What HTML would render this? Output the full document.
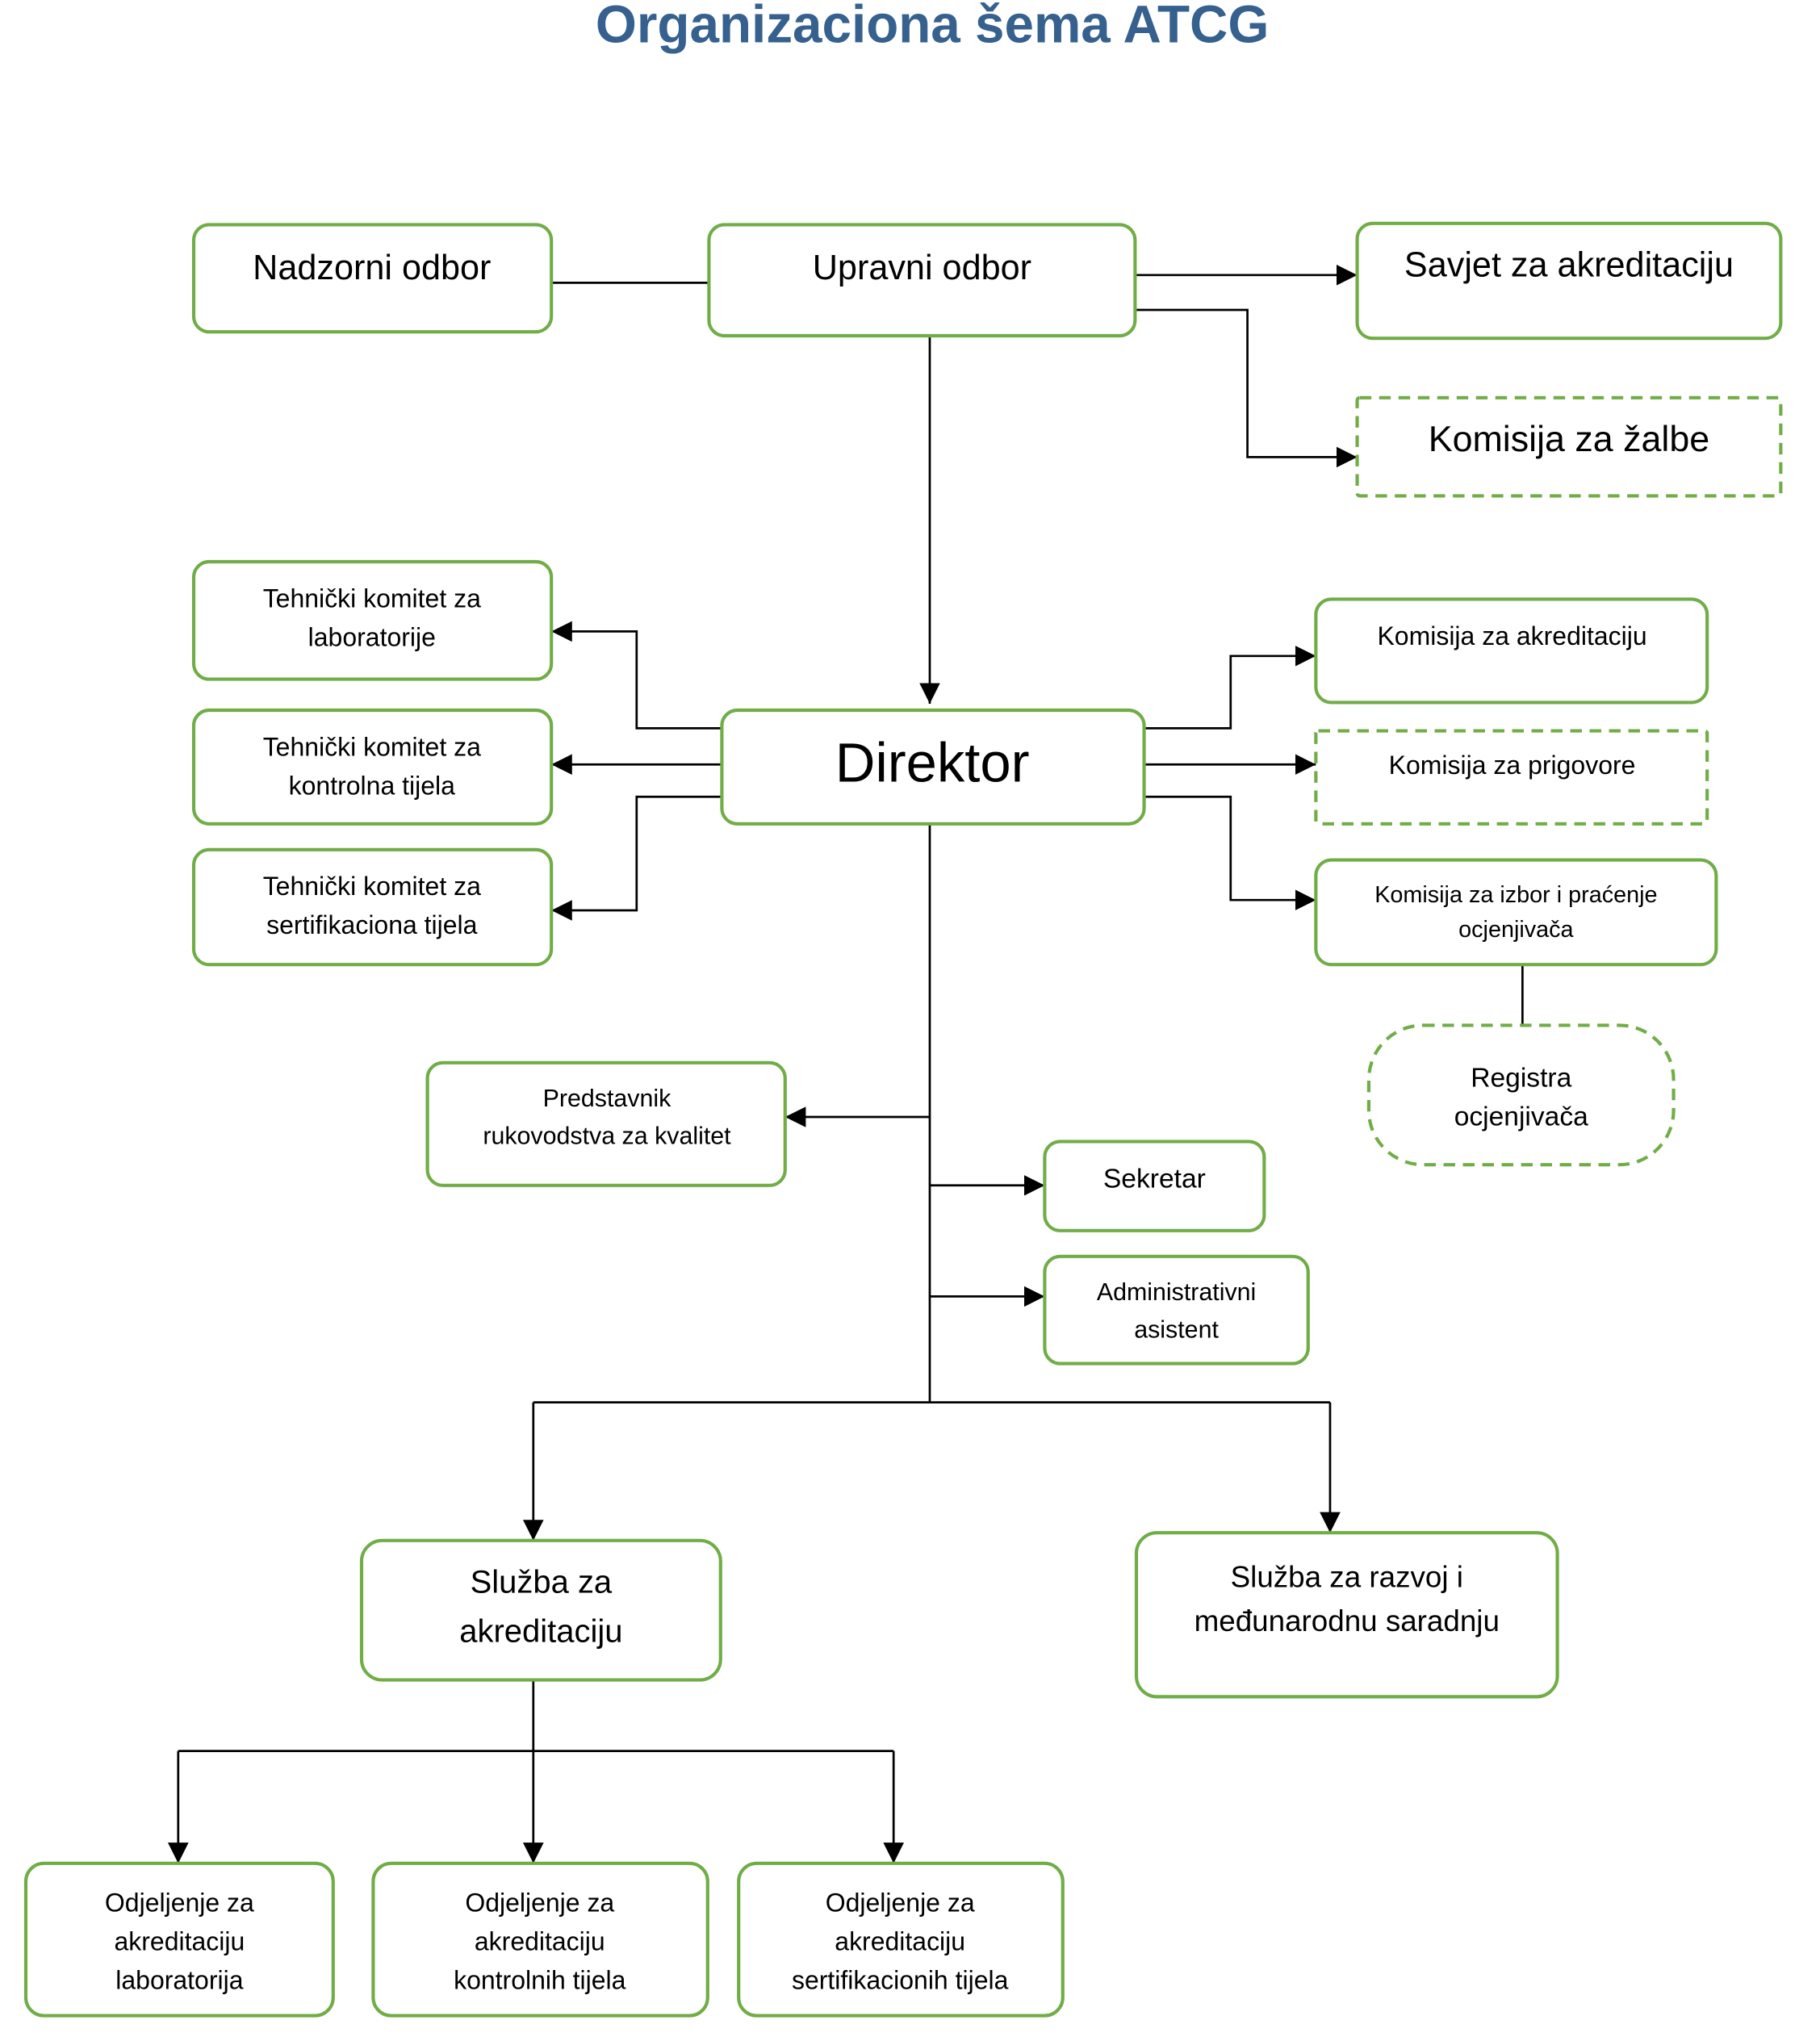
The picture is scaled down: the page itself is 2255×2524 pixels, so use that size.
<!DOCTYPE html>
<html><head><meta charset="utf-8"><style>
html,body{margin:0;padding:0;background:#fff;}
svg{display:block}
text{font-family:"Liberation Sans","DejaVu Sans",sans-serif;fill:#000;text-anchor:middle;dominant-baseline:middle}
.b{fill:#fff;stroke:#70AD47;stroke-width:2.6}
.d{fill:#fff;stroke:#70AD47;stroke-width:2.6;stroke-dasharray:9 6}
.l{fill:none;stroke:#000;stroke-width:1.7}
</style></head><body>
<svg width="2255" height="2524" viewBox="0 0 1409.4 1577.5" xmlns="http://www.w3.org/2000/svg">
<defs>
<marker id="m" viewBox="0 0 10 10" markerWidth="16" markerHeight="16" refX="10" refY="5" orient="auto" markerUnits="userSpaceOnUse"><path d="M0,0 L10,5 L0,10 z" fill="#000"/></marker></defs>
<text x="722" y="22" style="font-size:41px;font-weight:bold;fill:#36618F">Organizaciona šema ATCG</text>

<g class="l">
<path d="M427,219H549"/>
<path d="M880,213H1051" marker-end="url(#m)"/>
<path d="M880,240H966V354H1051" marker-end="url(#m)"/>
<path d="M720,260V545" marker-end="url(#m)"/>
<path d="M559,564H493V489H427" marker-end="url(#m)"/>
<path d="M559,592H427" marker-end="url(#m)"/>
<path d="M559,617H493V705H427" marker-end="url(#m)"/>
<path d="M886,564H953V508H1019" marker-end="url(#m)"/>
<path d="M886,592H1019" marker-end="url(#m)"/>
<path d="M886,617H953V697H1019" marker-end="url(#m)"/>
<path d="M1179,747V794"/>
<path d="M720,638V1086"/>
<path d="M720,865H608" marker-end="url(#m)"/>
<path d="M720,918H809" marker-end="url(#m)"/>
<path d="M720,1004H809" marker-end="url(#m)"/>
<path d="M413,1086H1030"/>
<path d="M413,1086V1193" marker-end="url(#m)"/>
<path d="M1030,1086V1187" marker-end="url(#m)"/>
<path d="M413,1301V1443" marker-end="url(#m)"/>
<path d="M138,1356H692"/>
<path d="M138,1356V1443" marker-end="url(#m)"/>
<path d="M692,1356V1443" marker-end="url(#m)"/>
</g>

<rect class="b" x="150" y="174" width="277" height="83" rx="12"/>
<text x="288" y="209" font-size="27">Nadzorni odbor</text>
<rect class="b" x="549" y="174" width="330" height="86" rx="12"/>
<text x="714" y="209" font-size="27">Upravni odbor</text>
<rect class="b" x="1051" y="173" width="328" height="89" rx="12"/>
<text x="1215" y="207" font-size="27">Savjet za akreditaciju</text>
<rect class="d" x="1051" y="308" width="328" height="76" rx="2"/>
<text x="1215" y="342" font-size="28">Komisija za žalbe</text>

<rect class="b" x="150" y="435" width="277" height="91" rx="12"/>
<text x="288" y="465" font-size="20">Tehnički komitet za</text><text x="288" y="495" font-size="20">laboratorije</text>
<rect class="b" x="150" y="550" width="277" height="88" rx="12"/>
<text x="288" y="580" font-size="20">Tehnički komitet za</text><text x="288" y="610" font-size="20">kontrolna tijela</text>
<rect class="b" x="150" y="658" width="277" height="89" rx="12"/>
<text x="288" y="688" font-size="20">Tehnički komitet za</text><text x="288" y="718" font-size="20">sertifikaciona tijela</text>

<rect class="b" x="559" y="550" width="327" height="88" rx="12"/>
<text x="722" y="594" font-size="43">Direktor</text>

<rect class="b" x="1019" y="464" width="303" height="80" rx="12"/>
<text x="1171" y="494" font-size="20">Komisija za akreditaciju</text>
<rect class="d" x="1019" y="566" width="303" height="72" rx="2"/>
<text x="1171" y="594" font-size="20">Komisija za prigovore</text>
<rect class="b" x="1019" y="666" width="310" height="81" rx="12"/>
<text x="1174" y="694" font-size="18">Komisija za izbor i praćenje</text><text x="1174" y="721" font-size="18">ocjenjivača</text>
<rect class="d" x="1060" y="794" width="236" height="108" rx="42"/>
<text x="1178" y="836" font-size="21">Registra</text><text x="1178" y="866" font-size="21">ocjenjivača</text>

<rect class="b" x="331" y="823" width="277" height="95" rx="12"/>
<text x="470" y="852" font-size="19">Predstavnik</text><text x="470" y="881" font-size="19">rukovodstva za kvalitet</text>
<rect class="b" x="809" y="884" width="170" height="69" rx="12"/>
<text x="894" y="914" font-size="21">Sekretar</text>
<rect class="b" x="809" y="973" width="204" height="83" rx="12"/>
<text x="911" y="1002" font-size="19">Administrativni</text><text x="911" y="1031" font-size="19">asistent</text>

<rect class="b" x="280" y="1193" width="278" height="108" rx="16"/>
<text x="419" y="1227" font-size="25">Služba za</text><text x="419" y="1265" font-size="25">akreditaciju</text>
<rect class="b" x="880" y="1187" width="326" height="127" rx="16"/>
<text x="1043" y="1223" font-size="23">Služba za razvoj i</text><text x="1043" y="1257" font-size="23">međunarodnu saradnju</text>

<rect class="b" x="20" y="1443" width="238" height="118" rx="14"/>
<text x="139" y="1475" font-size="20">Odjeljenje za</text><text x="139" y="1505" font-size="20">akreditaciju</text><text x="139" y="1535" font-size="20">laboratorija</text>
<rect class="b" x="289" y="1443" width="259" height="118" rx="14"/>
<text x="418" y="1475" font-size="20">Odjeljenje za</text><text x="418" y="1505" font-size="20">akreditaciju</text><text x="418" y="1535" font-size="20">kontrolnih tijela</text>
<rect class="b" x="572" y="1443" width="251" height="118" rx="14"/>
<text x="697" y="1475" font-size="20">Odjeljenje za</text><text x="697" y="1505" font-size="20">akreditaciju</text><text x="697" y="1535" font-size="20">sertifikacionih tijela</text>
</svg>
</body></html>
